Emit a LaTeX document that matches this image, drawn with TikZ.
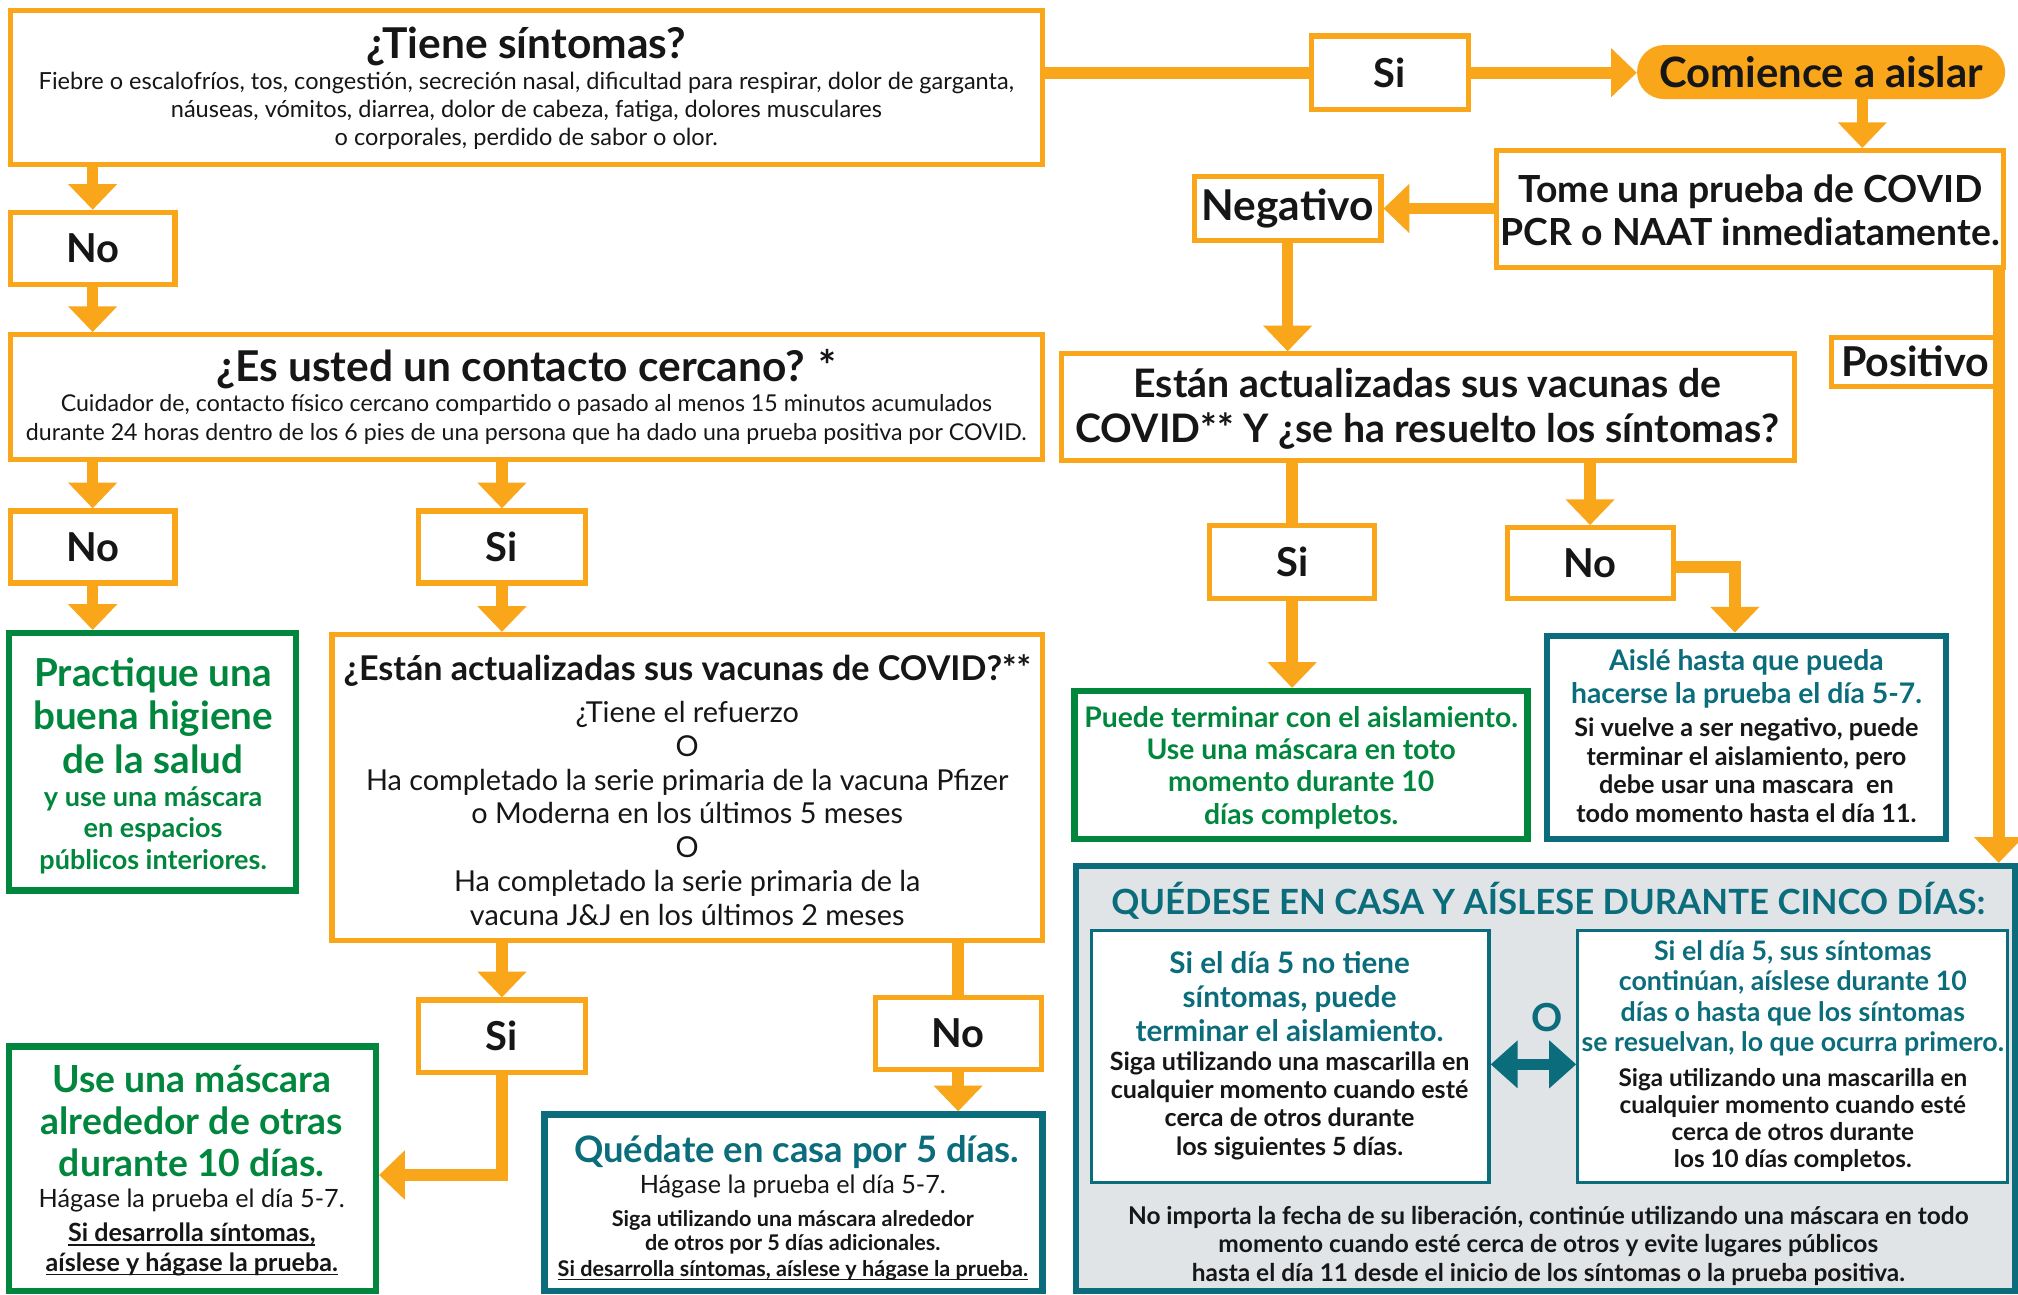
\documentclass[tikz,border=0pt]{standalone}
\usepackage{fontspec}
\setmainfont{Lato}
\usetikzlibrary{arrows.meta,calc}
\definecolor{org}{HTML}{F9A61A}
\definecolor{grn}{HTML}{00873D}
\definecolor{tl}{HTML}{0B6D7B}
\definecolor{gry}{HTML}{E1E4E7}
\definecolor{ink}{HTML}{161616}
\newcommand\fs[2]{\fontsize{#1}{#2}\selectfont}
\newcommand\ul[1]{\setbox0\hbox{#1}\rlap{\copy0}\rule[-3pt]{\wd0}{1.3pt}}
\newcommand\boxn[6]{\node[#1,minimum width={(#5-#3)*1pt},minimum height={(#6-#4)*1pt}] (#2) at ({(#3+#5)/2},{(#4+#6)/2}) {};}
\begin{document}
\begin{tikzpicture}[x=1pt,y=-1pt,
  bx/.style={draw=org,line width=4pt,fill=white,inner sep=0pt},
  gbx/.style={draw=grn,line width=5pt,fill=white,inner sep=0pt},
  tbx/.style={draw=tl,line width=5pt,fill=white,inner sep=0pt},
  ibx/.style={draw=tl,line width=2.5pt,fill=white,inner sep=0pt},
  conn/.style={draw=org,line width=9pt},
  arr/.style={conn,-{Triangle[width=37pt,length=20pt]}},
  lbl/.style={font=\fs{31}{36}\bfseries,text=ink,inner sep=0pt},
  txt/.style={align=center,text=ink,inner sep=0pt},
]
\useasboundingbox[fill=white] (0,0) rectangle (1568,1006);

% ---------- boxes ----------
\boxn{bx}{q1}{8}{8}{810}{128}
\boxn{bx}{si1}{1019}{28}{1141}{85}
\node[fill=org,rounded corners=21pt,minimum width=286pt,minimum height=42pt,inner sep=0pt] (com) at (1415,56) {};
\boxn{bx}{tome}{1163}{117}{1557}{208}
\boxn{bx}{neg}{928}{137}{1073}{187}
\boxn{bx}{pos}{1423}{262}{1551}{300}
\boxn{bx}{est}{825}{275}{1394}{358}
\boxn{bx}{si4}{940}{408}{1068}{465}
\boxn{bx}{no4}{1171}{410}{1300}{465}
\boxn{gbx}{puede}{835}{537}{1187}{652}
\boxn{tbx}{aisle}{1202}{494}{1512}{652}
\node[draw=tl,line width=5pt,fill=gry,inner sep=0pt,minimum width=730pt,minimum height=330pt] (grey) at (1201,838) {};
\boxn{ibx}{inL}{848}{723}{1157}{919}
\boxn{ibx}{inR}{1226}{723}{1560}{919}
\boxn{bx}{no1}{8}{165}{136}{221}
\boxn{bx}{q2}{8}{260}{810}{357}
\boxn{bx}{no2}{8}{397}{136}{453}
\boxn{bx}{si2}{325}{397}{455}{453}
\boxn{gbx}{prac}{7}{492}{230}{692}
\boxn{bx}{vac}{258}{493}{810}{731}
\boxn{bx}{si3}{325}{777}{455}{833}
\boxn{bx}{no3}{680}{775}{809}{831}
\boxn{gbx}{usem}{7}{813}{292}{1003}
\boxn{tbx}{qued}{423}{866}{810}{1003}

% ---------- connectors ----------
\draw[conn] (q1.east |- si1.west) -- (si1.west);
\draw[arr] (si1.east) -- (com.west |- si1.east);
\draw[arr] ([xshift=32pt]com.south) -- ([xshift=32pt]com.south |- tome.north);
\draw[arr] (tome.west |- neg.east) -- (neg.east);
\draw[arr] (neg.south) -- (neg.south |- est.north);
\draw[arr] (tome.south -| pos.east) -- (grey.north -| pos.east);
\draw[conn] (si4.north |- est.south) -- (si4.north);
\draw[arr] (si4.south) -- (si4.south |- puede.north);
\draw[arr] (no4.north |- est.south) -- (no4.north);
\draw[arr] ([yshift=-3pt]no4.east) -| ([xshift=-9pt]aisle.north);
\draw[arr] (no1.north |- q1.south) -- (no1.north);
\draw[arr] (no1.south) -- (no1.south |- q2.north);
\draw[arr] (no2.north |- q2.south) -- (no2.north);
\draw[arr] (si2.north |- q2.south) -- (si2.north);
\draw[arr] (no2.south) -- (no2.south |- prac.north);
\draw[arr] (si2.south) -- (si2.south |- vac.north);
\draw[arr] (si3.north |- vac.south) -- (si3.north);
\draw[conn] (no3.north |- vac.south) -- (no3.north);
\draw[arr] (no3.south) -- (no3.south |- qued.north);
\draw[arr] (si3.south) |- ([yshift=-5pt]usem.east);
\draw[tl,line width=9pt,{Triangle[width=36pt,length=21pt]}-{Triangle[width=36pt,length=21pt]}] ([yshift=-6pt]inL.east) -- ([yshift=-6pt]inR.west);

% ---------- labels ----------
\node[lbl] (lsi1) at (si1) {Si};
\node[lbl] (lno1) at (no1) {No};
\node[lbl] (lno2) at (no2) {No};
\node[lbl] (lsi2) at (si2) {Si};
\node[lbl] (lsi3) at (si3) {Si};
\node[lbl] (lno3) at (no3) {No};
\node[lbl] (lsi4) at (si4) {Si};
\node[lbl] (lno4) at (no4) {No};
\node[lbl,font=\fs{33}{38}\bfseries] (lneg) at (neg) {Negativo};
\node[lbl,font=\fs{32}{38}\bfseries] (lpos) at ([xshift=1pt]pos.center) {Positivo};
\node[txt,font=\fs{32.5}{38}\bfseries] (lcom) at (com) {Comience a aislar};

% ---------- texts ----------
\node[txt,font=\fs{33}{38}\bfseries] (t1) at (409,36) {¿Tiene síntomas?};
\node[txt,font=\fs{18.3}{21.5}] (t1b) at (409,86) {Fiebre o escalofríos, tos, congestión, secreción nasal, dificultad para respirar, dolor de garganta,\\ náuseas, vómitos, diarrea, dolor de cabeza, fatiga, dolores musculares\\ o corporales, perdido de sabor o olor.};

\node[txt,font=\fs{33}{38}\bfseries] (t2) at (409,287) {¿Es usted un contacto cercano? *};
\node[txt,font=\fs{18}{22}] (t2b) at (409,326) {Cuidador de, contacto físico cercano compartido o pasado al menos 15 minutos acumulados\\ durante 24 horas dentro de los 6 pies de una persona que ha dado una prueba positiva por COVID.};

\node[txt,font=\fs{26.5}{30}\bfseries] (tv) at (534,521) {¿Están actualizadas sus vacunas de COVID?**};
\node[txt,font=\fs{22.4}{26.3}] (tvb) at (534,632) {¿Tiene el refuerzo\\ O\\ Ha completado la serie primaria de la vacuna Pfizer\\ o Moderna en los últimos 5 meses\\ O\\ Ha completado la serie primaria de la\\ vacuna J\&J en los últimos 2 meses};

\node[txt,text=grn,font=\fs{30}{34}\bfseries] (tp) at (119,556) {Practique una\\ buena higiene\\ de la salud};
\node[txt,text=grn,font=\fs{21}{24.5}\bfseries] (tpb) at (119,645) {y use una máscara\\ en espacios\\ públicos interiores.};

\node[txt,text=grn,font=\fs{29}{32.5}\bfseries] (tu) at (149,871) {Use una máscara\\ alrededor de otras\\ durante 10 días.};
\node[txt,font=\fs{19.6}{24}] (tub) at (149,933) {Hágase la prueba el día 5-7.};
\node[txt,font=\fs{19.5}{23}\bfseries] (tuc) at (149,971) {\ul{Si desarrolla síntomas,}\\ \ul{aíslese y hágase la prueba.}};

\node[txt,text=tl,font=\fs{28.3}{33}\bfseries] (tq) at (619,895) {Quédate en casa por 5 días.};
\node[txt,font=\fs{19.6}{24}] (tqb) at (616,922) {Hágase la prueba el día 5-7.};
\node[txt,font=\fs{16.8}{19}\bfseries] (tqc) at (616,957.5) {Siga utilizando una máscara alrededor\\ de otros por 5 días adicionales.};
\node[txt,font=\fs{16.8}{19}\bfseries] (tqd) at (616,987) {\ul{Si desarrolla síntomas, aíslese y hágase la prueba.}};

\node[txt,font=\fs{29}{33}\bfseries] (tt) at (1360,163.5) {Tome una prueba de COVID\\ PCR o NAAT inmediatamente.};
\node[txt,font=\fs{30.5}{35}\bfseries] (te) at (1109,317.5) {Están actualizadas sus vacunas de\\ COVID** Y ¿se ha resuelto los síntomas?};

\node[txt,text=grn,font=\fs{22}{25}\bfseries] (tpu) at (1011,596.5) {Puede terminar con el aislamiento.\\ Use una máscara en toto\\ momento durante 10\\ días completos.};

\node[txt,text=tl,font=\fs{22}{25}\bfseries] (ta) at (1357,527.5) {Aislé hasta que pueda\\ hacerse la prueba el día 5-7.};
\node[txt,font=\fs{19.6}{22.3}\bfseries] (tab) at (1357,598.5) {Si vuelve a ser negativo, puede\\ terminar el aislamiento, pero\\ debe usar una mascara\ \ en\\ todo momento hasta el día 11.};

\node[txt,text=tl,font=\fs{27}{30}\bfseries] (tg) at (1203,700) {QUÉDESE EN CASA Y AÍSLESE DURANTE CINCO DÍAS:};
\node[txt,text=tl,font=\fs{23}{26.5}\bfseries] (tl1) at (1002,774.5) {Si el día 5 no tiene\\ síntomas, puede\\ terminar el aislamiento.};
\node[txt,font=\fs{19.5}{22}\bfseries] (tl2) at (1002,859) {Siga utilizando una mascarilla en\\ cualquier momento cuando esté\\ cerca de otros durante\\ los siguientes 5 días.};
\node[txt,text=tl,font=\fs{20.8}{23.7}\bfseries] (tr1) at (1393,775.5) {Si el día 5, sus síntomas\\ continúan, aíslese durante 10\\ días o hasta que los síntomas\\ se resuelvan, lo que ocurra primero.};
\node[txt,font=\fs{18.9}{21}\bfseries] (tr2) at (1393,870.5) {Siga utilizando una mascarilla en\\ cualquier momento cuando esté\\ cerca de otros durante\\ los 10 días completos.};
\node[txt,text=tl,font=\fs{30}{34}\bfseries] (to) at (1202,791) {O};
\node[txt,font=\fs{19}{22}\bfseries] (tbot) at (1203,968) {No importa la fecha de su liberación, continúe utilizando una máscara en todo\\ momento cuando esté cerca de otros y evite lugares públicos\\ hasta el día 11 desde el inicio de los síntomas o la prueba positiva.};
\end{tikzpicture}
\end{document}
